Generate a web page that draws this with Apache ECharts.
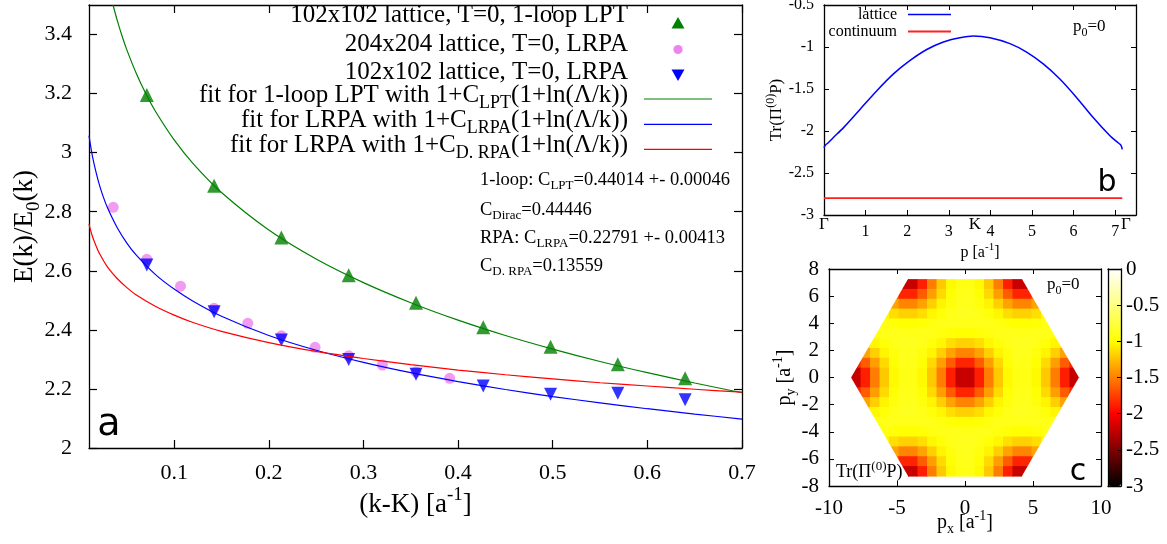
<!DOCTYPE html>
<html><head><meta charset="utf-8">
<script src="https://cdn.jsdelivr.net/npm/echarts@6/dist/echarts.min.js"></script>
<style>html,body{margin:0;padding:0;background:#fff}#c{width:1167px;height:544px}</style>
</head><body><div id="c"></div><script>
// ---------- Panel a data ----------
const latticeK = [0.0711, 0.1422, 0.2133, 0.2844, 0.3555, 0.4266, 0.4977, 0.5688, 0.6399];
const lptY     = [3.195, 2.888, 2.713, 2.585, 2.492, 2.409, 2.343, 2.284, 2.236];
const lrpa102Y = [2.620, 2.461, 2.366, 2.300, 2.250, 2.210, 2.182, 2.185, 2.163];
const fineK    = [0.0356, 0.0711, 0.1067, 0.1422, 0.1778, 0.2133, 0.2489, 0.2844, 0.3200, 0.3555, 0.3911];
const lrpa204Y = [2.815, 2.639, 2.548, 2.473, 2.422, 2.380, 2.341, 2.312, 2.281, 2.258, 2.236];
const fitK     = [0.01, 0.0125, 0.015, 0.02, 0.025, 0.03, 0.04, 0.05, 0.06, 0.08, 0.1, 0.12, 0.15, 0.2, 0.25, 0.3, 0.35, 0.4, 0.45, 0.5, 0.55, 0.6, 0.65, 0.7];
const fitLRPA  = [3.058, 3.008, 2.967, 2.902, 2.851, 2.810, 2.745, 2.694, 2.653, 2.588, 2.538, 2.497, 2.446, 2.381, 2.331, 2.290, 2.255, 2.225, 2.198, 2.174, 2.153, 2.133, 2.115, 2.098];
const fitDRPA  = [2.758, 2.728, 2.704, 2.665, 2.636, 2.611, 2.573, 2.543, 2.518, 2.480, 2.450, 2.425, 2.395, 2.357, 2.327, 2.303, 2.282, 2.264, 2.248, 2.234, 2.221, 2.210, 2.199, 2.189];
const fitLptK  = [0.0354, 0.04, 0.045, 0.05, 0.06, 0.07, 0.08, 0.1, 0.12, 0.15, 0.2, 0.25, 0.3, 0.35, 0.4, 0.45, 0.5, 0.55, 0.6, 0.65, 0.7];
const fitLPT   = [3.500, 3.446, 3.394, 3.348, 3.268, 3.200, 3.141, 3.043, 2.963, 2.865, 2.738, 2.640, 2.560, 2.492, 2.433, 2.381, 2.335, 2.293, 2.255, 2.220, 2.187];
const xTicksA  = [0.1, 0.2, 0.3, 0.4, 0.5, 0.6, 0.7];
const yTicksA  = [2, 2.2, 2.4, 2.6, 2.8, 3, 3.2, 3.4];
const seriesNamesA = ['102x102 lattice, T=0, 1-loop LPT', '204x204 lattice, T=0, LRPA', '102x102 lattice, T=0, LRPA',
  'fit for 1-loop LPT with 1+C_LPT(1+ln(Λ/k))', 'fit for LRPA with 1+C_LRPA(1+ln(Λ/k))', 'fit for LRPA with 1+C_D. RPA(1+ln(Λ/k))'];
const annotations = ['{n|1-loop: C}{s|LPT}{n|=0.44014 +- 0.00046}', '{n|C}{s|Dirac}{n|=0.44446}',
  '{n|RPA: C}{s|LRPA}{n|=0.22791 +- 0.00413}', '{n|C}{s|D. RPA}{n|=0.13559}'];

// ---------- Panel b data ----------
const bP       = [0, 0.03, 0.10, 0.22, 0.47, 0.87, 1.27, 1.67, 2.07, 2.47, 2.87, 3.27, 3.59, 3.99, 4.47, 4.87, 5.27, 5.67, 6.07, 6.47, 6.88, 7.07, 7.14, 7.17];
const bLattice = [-2.20, -2.17, -2.14, -2.08, -1.96, -1.74, -1.52, -1.32, -1.16, -1.03, -0.94, -0.89, -0.87, -0.89, -0.96, -1.06, -1.20, -1.38, -1.60, -1.84, -2.06, -2.14, -2.17, -2.22];
const bContP   = [0, 7.17];
const bContY   = [-2.8, -2.8];
const xTicksB  = [1, 2, 3, 4, 5, 6, 7];
const bPathTicks  = [0, 3.6276, 7.255];
const bPathLabels = ['Γ', 'K', 'Γ'];
const seriesNamesB = ['lattice', 'continuum'];

// ---------- Panel c data ----------
const heatX = [-8.029, -7.330, -6.632, -5.934, -5.236, -4.538, -3.840, -3.142, -2.443, -1.745, -1.047, -0.349,
                0.349, 1.047, 1.745, 2.443, 3.142, 3.840, 4.538, 5.236, 5.934, 6.632, 7.330, 8.029];
const heatY = [6.892, 6.167, 5.441, 4.716, 3.990, 3.265, 2.539, 1.814, 1.088, 0.363,
               -0.363, -1.088, -1.814, -2.539, -3.265, -3.990, -4.716, -5.441, -6.167, -6.892];
const _ = null;
const heatRows = [
 [_,_,_,_,_,-2.22,-2.22,-1.88,-1.51,-1.21,-1.02,-0.92,-0.92,-1.02,-1.21,-1.51,-1.88,-2.22,-2.22,_,_,_,_,_],
 [_,_,_,_,-1.64,-1.86,-1.86,-1.64,-1.38,-1.15,-0.99,-0.91,-0.91,-0.99,-1.15,-1.38,-1.64,-1.86,-1.86,-1.64,_,_,_,_],
 [_,_,_,_,-1.36,-1.48,-1.48,-1.36,-1.19,-1.04,-0.95,-0.89,-0.89,-0.95,-1.04,-1.19,-1.36,-1.48,-1.48,-1.36,_,_,_,_],
 [_,_,_,-1.03,-1.13,-1.18,-1.18,-1.13,-1.03,-0.97,-0.91,-0.88,-0.88,-0.91,-0.97,-1.03,-1.13,-1.18,-1.18,-1.13,-1.03,_,_,_],
 [_,_,_,-0.94,-0.98,-1.00,-1.00,-0.98,-0.94,-0.91,-0.90,-0.91,-0.91,-0.90,-0.91,-0.94,-0.98,-1.00,-1.00,-0.98,-0.94,_,_,_],
 [_,_,-0.94,-0.91,-0.90,-0.91,-0.91,-0.90,-0.91,-0.94,-0.98,-1.00,-1.00,-0.98,-0.94,-0.91,-0.90,-0.91,-0.91,-0.90,-0.91,-0.94,_,_],
 [_,-1.13,-1.03,-0.97,-0.91,-0.88,-0.88,-0.91,-0.97,-1.03,-1.13,-1.18,-1.18,-1.13,-1.03,-0.97,-0.91,-0.88,-0.88,-0.91,-0.97,-1.03,-1.13,_],
 [_,-1.36,-1.19,-1.04,-0.95,-0.89,-0.89,-0.95,-1.04,-1.19,-1.36,-1.48,-1.48,-1.36,-1.19,-1.04,-0.95,-0.89,-0.89,-0.95,-1.04,-1.19,-1.36,_],
 [-1.86,-1.64,-1.38,-1.15,-0.99,-0.91,-0.91,-0.99,-1.15,-1.38,-1.64,-1.86,-1.86,-1.64,-1.38,-1.15,-0.99,-0.91,-0.91,-0.99,-1.15,-1.38,-1.64,-1.86],
 [-2.22,-1.88,-1.51,-1.21,-1.02,-0.92,-0.92,-1.02,-1.21,-1.51,-1.88,-2.22,-2.22,-1.88,-1.51,-1.21,-1.02,-0.92,-0.92,-1.02,-1.21,-1.51,-1.88,-2.22],
 [-2.22,-1.88,-1.51,-1.21,-1.02,-0.92,-0.92,-1.02,-1.21,-1.51,-1.88,-2.22,-2.22,-1.88,-1.51,-1.21,-1.02,-0.92,-0.92,-1.02,-1.21,-1.51,-1.88,-2.22],
 [-1.86,-1.64,-1.38,-1.15,-0.99,-0.91,-0.91,-0.99,-1.15,-1.38,-1.64,-1.86,-1.86,-1.64,-1.38,-1.15,-0.99,-0.91,-0.91,-0.99,-1.15,-1.38,-1.64,-1.86],
 [_,-1.36,-1.19,-1.04,-0.95,-0.89,-0.89,-0.95,-1.04,-1.19,-1.36,-1.48,-1.48,-1.36,-1.19,-1.04,-0.95,-0.89,-0.89,-0.95,-1.04,-1.19,-1.36,_],
 [_,-1.13,-1.03,-0.97,-0.91,-0.88,-0.88,-0.91,-0.97,-1.03,-1.13,-1.18,-1.18,-1.13,-1.03,-0.97,-0.91,-0.88,-0.88,-0.91,-0.97,-1.03,-1.13,_],
 [_,_,-0.94,-0.91,-0.90,-0.91,-0.91,-0.90,-0.91,-0.94,-0.98,-1.00,-1.00,-0.98,-0.94,-0.91,-0.90,-0.91,-0.91,-0.90,-0.91,-0.94,_,_],
 [_,_,_,-0.94,-0.98,-1.00,-1.00,-0.98,-0.94,-0.91,-0.90,-0.91,-0.91,-0.90,-0.91,-0.94,-0.98,-1.00,-1.00,-0.98,-0.94,_,_,_],
 [_,_,_,-1.03,-1.13,-1.18,-1.18,-1.13,-1.03,-0.97,-0.91,-0.88,-0.88,-0.91,-0.97,-1.03,-1.13,-1.18,-1.18,-1.13,-1.03,_,_,_],
 [_,_,_,_,-1.36,-1.48,-1.48,-1.36,-1.19,-1.04,-0.95,-0.89,-0.89,-0.95,-1.04,-1.19,-1.36,-1.48,-1.48,-1.36,_,_,_,_],
 [_,_,_,_,-1.64,-1.86,-1.86,-1.64,-1.38,-1.15,-0.99,-0.91,-0.91,-0.99,-1.15,-1.38,-1.64,-1.86,-1.86,-1.64,_,_,_,_],
 [_,_,_,_,_,-2.22,-2.22,-1.88,-1.51,-1.21,-1.02,-0.92,-0.92,-1.02,-1.21,-1.51,-1.88,-2.22,-2.22,_,_,_,_,_]
];
const bzCorners = [[8.378, 0], [4.189, 7.255], [-4.189, 7.255], [-8.378, 0], [-4.189, -7.255], [4.189, -7.255]];
const maskQuadrants = [[1, 1], [-1, 1], [-1, -1], [1, -1]];
const colorbarColors = ['#000000', '#ff0000', '#ffff00', '#ffffff'];

// ---------- build ----------
const SERIF = '"Liberation Serif", "Times New Roman", serif';
const SANS = '"DejaVu Sans", sans-serif';
const C_GREEN = '#008000', C_VIOLET = '#ee82ee', C_BLUE = '#0000ff', C_RED = '#ff0000';
function mkRich(fs) {
  const LH = Math.round(fs * 1.36), ss = Math.round(fs * 0.7);
  return {
    n: {fontFamily: SERIF, fontSize: fs, lineHeight: LH, verticalAlign: 'middle', color: '#000'},
    s: {fontFamily: SERIF, fontSize: ss, lineHeight: LH, verticalAlign: 'bottom', color: '#000'},
    u: {fontFamily: SERIF, fontSize: ss, lineHeight: LH, verticalAlign: 'top', color: '#000'}
  };
}
function richName(name) {
  const m = name.match(/^(.*)C_([^()]+)(\(.*)$/);
  if (m) return '{n|' + m[1] + 'C}{s|' + m[2] + '}{n|' + m[3] + '}';
  return '{n|' + name + '}';
}
const pairs = (xs, ys) => xs.map((x, i) => [x, ys[i]]);
const heatData = [];
heatRows.forEach((row, r) => row.forEach((v, c) => { if (v !== null) heatData.push([heatX[c], heatY[r], v]); }));
const cellW = heatX[1] - heatX[0];
const cellH = heatY[0] - heatY[1];

const AX = '#000';
function ax(o) {
  const base = {
    type: 'value', splitLine: {show: false}, nameMoveOverlap: false,
    axisLine: {show: true, onZero: false, lineStyle: {color: AX, width: 1.3}},
    axisTick: {show: true, inside: true, length: 5, lineStyle: {color: AX, width: 1}},
    axisLabel: {show: true, color: '#000', fontFamily: SERIF}
  };
  for (const k in o) {
    if (o[k] && typeof o[k] === 'object' && !Array.isArray(o[k]) && base[k]) base[k] = Object.assign({}, base[k], o[k]);
    else base[k] = o[k];
  }
  return base;
}

// keys (legends) of panels a and b
const keyA = {right: 628, textY: [15, 44.5, 72, 95, 120.5, 145], sampleX: [644, 712], sampleY: [23, 49.5, 75, 99, 124.3, 149.3]};
const keyB = {right: 897, textY: [14.5, 31.5], sampleX: [908, 951], sampleY: [14.5, 31.5]};
const legendGraphics = [];
seriesNamesA.forEach((nm, i) => {
  legendGraphics.push({type: 'text', x: keyA.right, y: keyA.textY[i], z: 100,
    style: {text: richName(nm), rich: mkRich(25), align: 'right', verticalAlign: 'middle'}});
});
{
  const cx = (keyA.sampleX[0] + keyA.sampleX[1]) / 2, y = keyA.sampleY;
  legendGraphics.push({type: 'polygon', z: 100, shape: {points: [[cx - 6.5, y[0] + 5.5], [cx + 6.5, y[0] + 5.5], [cx, y[0] - 6]]}, style: {fill: C_GREEN}});
  legendGraphics.push({type: 'circle', z: 100, shape: {cx: cx, cy: y[1], r: 4.6}, style: {fill: C_VIOLET}});
  legendGraphics.push({type: 'polygon', z: 100, shape: {points: [[cx - 6.5, y[2] - 5.5], [cx + 6.5, y[2] - 5.5], [cx, y[2] + 6]]}, style: {fill: C_BLUE}});
  [C_GREEN, C_BLUE, C_RED].forEach((c, k) => legendGraphics.push({type: 'line', z: 100,
    shape: {x1: keyA.sampleX[0], y1: y[3 + k], x2: keyA.sampleX[1], y2: y[3 + k]}, style: {stroke: c, lineWidth: 1.2}}));
}
seriesNamesB.forEach((nm, i) => {
  legendGraphics.push({type: 'text', x: keyB.right, y: keyB.textY[i], z: 100,
    style: {text: '{n|' + nm + '}', rich: mkRich(16), align: 'right', verticalAlign: 'middle'}});
  legendGraphics.push({type: 'line', z: 100, shape: {x1: keyB.sampleX[0], y1: keyB.sampleY[i], x2: keyB.sampleX[1], y2: keyB.sampleY[i]},
    style: {stroke: i === 0 ? C_BLUE : '#ff2020', lineWidth: i === 0 ? 1.5 : 1.8}});
});

const option = {
  animation: false,
  backgroundColor: '#fff',
  textStyle: {fontFamily: SERIF, color: '#000'},
  grid: [
    {left: 89, top: 5, width: 653, height: 443, outerBoundsMode: 'none'},
    {left: 824, top: 5, width: 312, height: 210, outerBoundsMode: 'none'},
    {left: 829, top: 269, width: 272, height: 217, outerBoundsMode: 'none'},
    {left: 1108, top: 269, width: 13, height: 217, outerBoundsMode: 'none'}
  ],
  xAxis: [
    ax({gridIndex: 0, min: 0.01, max: 0.7, position: 'bottom',
      axisTick: {length: 8, customValues: xTicksA, lineStyle: {color: AX, width: 1.2}},
      axisLabel: {customValues: xTicksA, margin: 14, fontSize: 22},
      name: '{n|(k-K) [a}{u|-1}{n|]}', nameLocation: 'middle', nameGap: 38, nameTextStyle: {rich: mkRich(27)}}),
    ax({gridIndex: 0, min: 0.01, max: 0.7, position: 'top',
      axisTick: {length: 8, customValues: xTicksA, lineStyle: {color: AX, width: 1.2}}, axisLabel: {show: false}}),
    ax({gridIndex: 1, min: 0, max: 7.5, position: 'bottom',
      axisTick: {customValues: xTicksB},
      axisLabel: {customValues: xTicksB, margin: 9, fontSize: 16},
      name: '{n|p [a}{u|-1}{n|]}', nameLocation: 'middle', nameGap: 27, nameTextStyle: {rich: mkRich(16)}}),
    ax({gridIndex: 1, min: 0, max: 7.5, position: 'top', axisTick: {customValues: xTicksB}, axisLabel: {show: false}}),
    ax({gridIndex: 1, min: 0, max: 7.5, position: 'bottom', axisLine: {show: false, onZero: false}, axisTick: {show: false},
      axisLabel: {customValues: bPathTicks, margin: 1, fontSize: 17,
        formatter: v => bPathLabels[bPathTicks.indexOf(v)]}}),
    ax({gridIndex: 2, min: -10, max: 10, interval: 5, position: 'bottom',
      axisLabel: {margin: 12, fontSize: 21},
      name: '{n|p}{s|x}{n| [a}{u|-1}{n|]}', nameLocation: 'middle', nameGap: 23.5, nameTextStyle: {rich: mkRich(20)}}),
    ax({gridIndex: 2, min: -10, max: 10, interval: 5, position: 'top', axisLabel: {show: false}}),
    ax({gridIndex: 3, min: 0, max: 1, position: 'bottom', axisTick: {show: false}, axisLabel: {show: false}, z: 10}),
    ax({gridIndex: 3, min: 0, max: 1, position: 'top', axisTick: {show: false}, axisLabel: {show: false}, z: 10})
  ],
  yAxis: [
    ax({gridIndex: 0, min: 2, max: 3.5, position: 'left',
      axisTick: {length: 8, customValues: yTicksA, lineStyle: {color: AX, width: 1.2}},
      axisLabel: {customValues: yTicksA, margin: 17, fontSize: 22},
      name: '{n|E(k)/E}{s|0}{n|(k)}', nameLocation: 'middle', nameRotate: 90, nameGap: 45.5, nameTextStyle: {rich: mkRich(27)}}),
    ax({gridIndex: 0, min: 2, max: 3.5, position: 'right',
      axisTick: {length: 8, customValues: yTicksA, lineStyle: {color: AX, width: 1.2}}, axisLabel: {show: false}}),
    ax({gridIndex: 1, min: -3, max: -0.5, interval: 0.5, position: 'left',
      axisLabel: {margin: 10, fontSize: 16},
      name: '{n|Tr(Π}{u|(0)}{n|P)}', nameLocation: 'middle', nameRotate: 90, nameGap: 36, nameTextStyle: {rich: mkRich(17)}}),
    ax({gridIndex: 1, min: -3, max: -0.5, interval: 0.5, position: 'right', axisLabel: {show: false}}),
    ax({gridIndex: 2, min: -8, max: 8, interval: 2, position: 'left',
      axisLabel: {margin: 10, fontSize: 21},
      name: '{n|p}{s|y}{n| [a}{u|-1}{n|]}', nameLocation: 'middle', nameRotate: 90, nameGap: 30.5, nameTextStyle: {rich: mkRich(20)}}),
    ax({gridIndex: 2, min: -8, max: 8, interval: 2, position: 'right', axisLabel: {show: false}}),
    ax({gridIndex: 3, min: -3, max: 0, interval: 0.5, position: 'right', z: 10,
      axisTick: {length: 4}, axisLabel: {margin: 5, fontSize: 21}}),
    ax({gridIndex: 3, min: -3, max: 0, interval: 0.5, position: 'left', z: 10, axisTick: {show: false}, axisLabel: {show: false}})
  ],
  visualMap: {
    type: 'continuous', min: -3, max: 0, seriesIndex: 8, dimension: 2, calculable: false, hoverLink: false,
    orient: 'vertical', left: 1108, top: 269, itemWidth: 13, itemHeight: 217, padding: 0, text: null,
    inRange: {color: colorbarColors}
  },
  series: [
    {name: seriesNamesA[0], type: 'scatter', xAxisIndex: 0, yAxisIndex: 0, symbol: 'triangle', symbolSize: 14,
     itemStyle: {color: C_GREEN}, data: pairs(latticeK, lptY)},
    {name: seriesNamesA[1], type: 'scatter', xAxisIndex: 0, yAxisIndex: 0, symbol: 'circle', symbolSize: 11,
     itemStyle: {color: C_VIOLET}, data: pairs(fineK, lrpa204Y)},
    {name: seriesNamesA[2], type: 'scatter', xAxisIndex: 0, yAxisIndex: 0, symbol: 'triangle', symbolRotate: 180, symbolSize: 13,
     itemStyle: {color: C_BLUE}, data: pairs(latticeK, lrpa102Y)},
    {name: seriesNamesA[3], type: 'line', xAxisIndex: 0, yAxisIndex: 0, symbol: 'none', smooth: 0.3,
     lineStyle: {color: C_GREEN, width: 1.2}, itemStyle: {color: C_GREEN}, data: pairs(fitLptK, fitLPT)},
    {name: seriesNamesA[4], type: 'line', xAxisIndex: 0, yAxisIndex: 0, symbol: 'none', smooth: 0.3,
     lineStyle: {color: C_BLUE, width: 1.2}, itemStyle: {color: C_BLUE}, data: pairs(fitK, fitLRPA)},
    {name: seriesNamesA[5], type: 'line', xAxisIndex: 0, yAxisIndex: 0, symbol: 'none', smooth: 0.3,
     lineStyle: {color: C_RED, width: 1.2}, itemStyle: {color: C_RED}, data: pairs(fitK, fitDRPA)},
    {name: seriesNamesB[0], type: 'line', xAxisIndex: 2, yAxisIndex: 2, symbol: 'none', smooth: 0.3,
     lineStyle: {color: C_BLUE, width: 1.5}, itemStyle: {color: C_BLUE}, data: pairs(bP, bLattice)},
    {name: seriesNamesB[1], type: 'line', xAxisIndex: 2, yAxisIndex: 2, symbol: 'none',
     lineStyle: {color: '#ff2020', width: 1.8}, itemStyle: {color: '#ff2020'}, data: pairs(bContP, bContY)},
    {name: 'heat', type: 'custom', xAxisIndex: 5, yAxisIndex: 4, encode: {x: 0, y: 1}, data: heatData,
     renderItem: function (params, api) {
       const x = api.value(0), y = api.value(1);
       const a = api.coord([x - cellW / 2, y + cellH / 2]);
       const b = api.coord([x + cellW / 2, y - cellH / 2]);
       return {type: 'rect', shape: {x: a[0], y: a[1], width: b[0] - a[0] + 0.7, height: b[1] - a[1] + 0.7},
               style: {fill: api.visual('color')}};
     }},
    {name: 'mask', type: 'custom', xAxisIndex: 5, yAxisIndex: 4, encode: {x: 0, y: 1}, data: maskQuadrants, z: 3,
     renderItem: function (params, api) {
       const sx = api.value(0), sy = api.value(1), m = 0.35;
       const vx = bzCorners[0][0], tx = bzCorners[1][0], ty = bzCorners[1][1];
       const pts = [[sx * vx, 0], [sx * tx, sy * ty], [sx * tx, sy * (ty + m)], [sx * (vx + m), sy * (ty + m)], [sx * (vx + m), 0]]
         .map(p => api.coord(p));
       return {type: 'polygon', shape: {points: pts}, style: {fill: '#ffffff'}};
     }}
  ],
  graphic: [
    ...legendGraphics,
    ...annotations.map((t, i) => ({type: 'text', x: 480, y: [180, 210, 238, 266][i], z: 100,
      style: {text: t, rich: mkRich(18.5), verticalAlign: 'middle', align: 'left'}})),
    {type: 'text', x: 109, y: 425, z: 100, style: {text: 'a', fontFamily: SANS, fontSize: 38, fill: '#000', align: 'center', verticalAlign: 'middle'}},
    {type: 'text', x: 1107, y: 183, z: 100, style: {text: 'b', fontFamily: SANS, fontSize: 30, fill: '#000', align: 'center', verticalAlign: 'middle'}},
    {type: 'text', x: 1078, y: 472, z: 100, style: {text: 'c', fontFamily: SANS, fontSize: 30, fill: '#000', align: 'center', verticalAlign: 'middle'}},
    {type: 'text', x: 1073, y: 27, z: 100, style: {text: '{n|p}{s|0}{n|=0}', rich: mkRich(17), verticalAlign: 'middle', align: 'left'}},
    {type: 'text', x: 1047, y: 285, z: 100, style: {text: '{n|p}{s|0}{n|=0}', rich: mkRich(17), verticalAlign: 'middle', align: 'left'}},
    {type: 'text', x: 836, y: 472, z: 100, style: {text: '{n|Tr(Π}{u|(0)}{n|P)}', rich: mkRich(18), verticalAlign: 'middle', align: 'left'}}
  ]
};
const chart = echarts.init(document.getElementById('c'), null, {renderer: 'canvas'});
chart.setOption(option);
</script></body></html>
